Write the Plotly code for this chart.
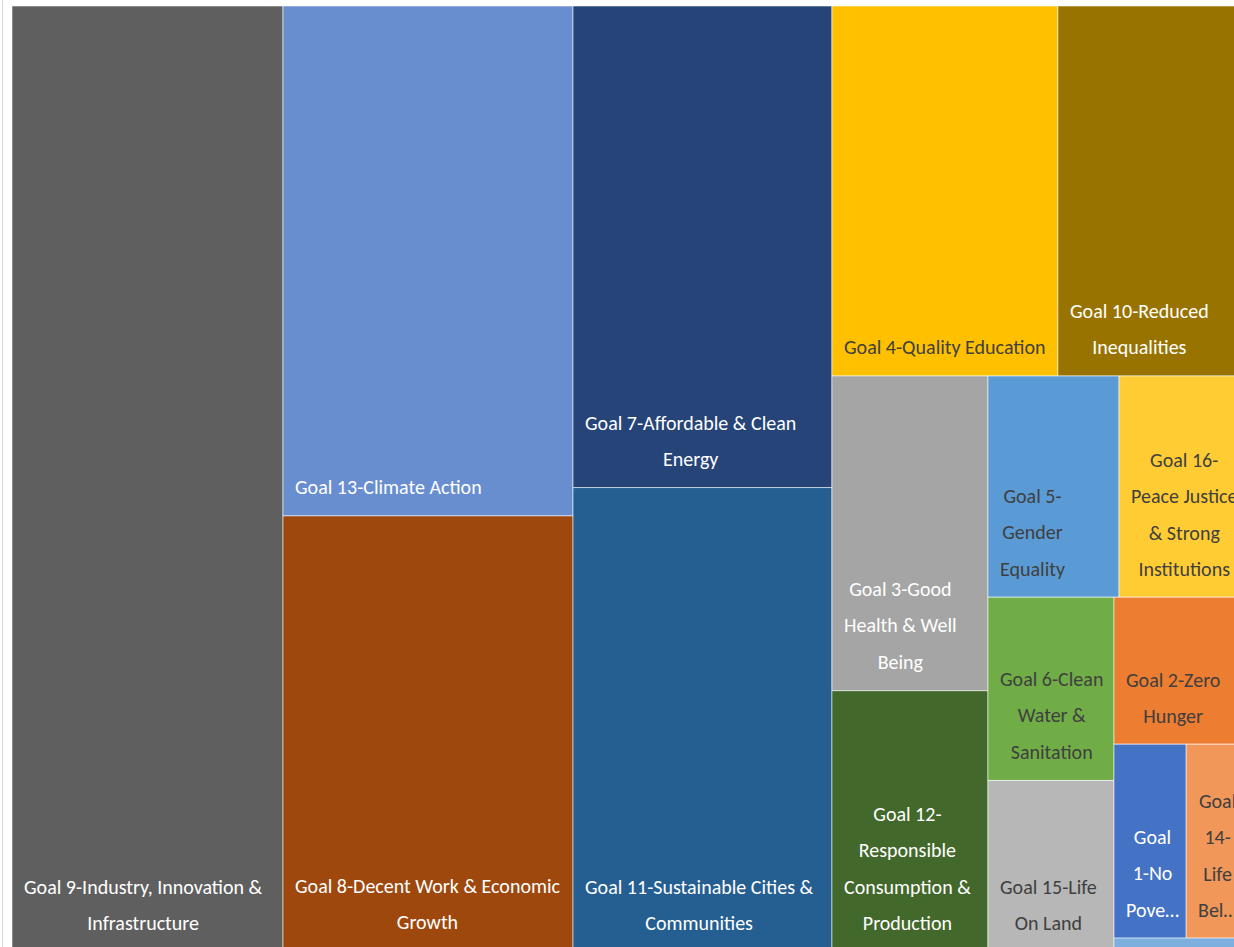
import plotly.graph_objects as go

# ---- data -------------------------------------------------------------
goal_ids = [9, 13, 8, 7, 11, 4, 10, 3, 12, 5, 16, 6, 15, 2, 1, 14, 17]

goal_names = {
    9: "Goal 9-Industry, Innovation & Infrastructure",
    13: "Goal 13-Climate Action",
    8: "Goal 8-Decent Work & Economic Growth",
    7: "Goal 7-Affordable & Clean Energy",
    11: "Goal 11-Sustainable Cities & Communities",
    4: "Goal 4-Quality Education",
    10: "Goal 10-Reduced Inequalities",
    3: "Goal 3-Good Health & Well Being",
    12: "Goal 12-Responsible Consumption & Production",
    5: "Goal 5-Gender Equality",
    16: "Goal 16-Peace Justice & Strong Institutions",
    6: "Goal 6-Clean Water & Sanitation",
    15: "Goal 15-Life On Land",
    2: "Goal 2-Zero Hunger",
    1: "Goal 1-No Poverty",
    14: "Goal 14-Life Below Water",
    17: "Goal 17-Partnerships for the Goals",
}

goal_values = {
    9: 256.1, 13: 147.9, 8: 126.2, 7: 124.7, 11: 120.0,
    4: 83.6, 10: 69.6, 3: 49.1, 12: 40.6, 5: 29.0, 16: 28.1,
    6: 23.1, 15: 21.5, 2: 19.4, 1: 14.0, 14: 11.6, 17: 1.7,
}

# wrapped tile labels as they appear inside each tile
goal_labels = {
    9: ["Goal 9-Industry, Innovation &", "Infrastructure"],
    13: ["Goal 13-Climate Action"],
    8: ["Goal 8-Decent Work & Economic", "Growth"],
    7: ["Goal 7-Affordable & Clean", "Energy"],
    11: ["Goal 11-Sustainable Cities &", "Communities"],
    4: ["Goal 4-Quality Education"],
    10: ["Goal 10-Reduced", "Inequalities"],
    3: ["Goal 3-Good", "Health & Well", "Being"],
    12: ["Goal 12-", "Responsible", "Consumption &", "Production"],
    5: ["Goal 5-", "Gender", "Equality"],
    16: ["Goal 16-", "Peace Justice", "& Strong", "Institutions"],
    6: ["Goal 6-Clean", "Water &", "Sanitation"],
    15: ["Goal 15-Life", "On Land"],
    2: ["Goal 2-Zero", "Hunger"],
    1: ["Goal", "1-No", "Pove\u2026"],
    14: ["Goal", "14-", "Life", "Bel\u2026"],
    17: [],
}

goal_colors = {
    9: "#5F5F5F", 13: "#698ED0", 8: "#9E480E", 7: "#264478", 11: "#255E91",
    4: "#FFC000", 10: "#997300", 3: "#A5A5A5", 12: "#43682B", 5: "#5B9BD5",
    16: "#FFCD33", 6: "#70AD47", 15: "#B7B7B7", 2: "#ED7D31", 1: "#4472C4",
    14: "#F1975A", 17: "#7CAFDD",
}

dark_text = {4, 5, 16, 6, 15, 2, 14}

# strips of the treemap, in placement order: "col" = stacked vertically
# on the left of the free area, "row" = laid side by side along its top
strips = [
    ("col", [9]), ("col", [13, 8]), ("col", [7, 11]), ("row", [4, 10]),
    ("col", [3, 12]), ("row", [5, 16]), ("col", [6, 15]), ("row", [2]),
    ("row", [1, 14]), ("col", [17]),
]

# ---- layout -----------------------------------------------------------
CHART_W, CHART_H = 1234.0, 945.0      # full treemap extent
VIEW_W, VIEW_H = 1222.0, 941.0        # visible part of it
PAD = 10
FONT = "Carlito, Lato, Roboto, sans-serif"

total = sum(goal_values.values())
scale = CHART_W * CHART_H / total


def tile(strips):
    rects = {}
    x, y, w, h = 0.0, 0.0, CHART_W, CHART_H
    for orient, items in strips:
        area = sum(goal_values[g] for g in items) * scale
        if orient == "col":
            sw = area / h
            cy = y
            for g in items:
                gh = goal_values[g] * scale / sw
                rects[g] = (x, cy, x + sw, cy + gh)
                cy += gh
            x += sw
            w -= sw
        else:
            sh = area / w
            cx = x
            for g in items:
                gw = goal_values[g] * scale / sh
                rects[g] = (cx, y, cx + gw, y + sh)
                cx += gw
            y += sh
            h -= sh
    return rects


rects = tile(strips)

fig = go.Figure()
annotations = []
for g in goal_ids:
    x0, y0, x1, y1 = rects[g]
    fig.add_trace(go.Scatter(
        x=[x0, x1, x1, x0, x0],
        y=[y0, y0, y1, y1, y0],
        mode="lines",
        fill="toself",
        fillcolor=goal_colors[g],
        line=dict(color="rgba(255,255,255,0.55)", width=1),
        name=goal_names[g],
        hoveron="fills",
        text=f"{goal_names[g]}: {goal_values[g]}",
        hoverinfo="text",
        showlegend=False,
    ))
    lines = goal_labels[g]
    if lines:
        color = "#3F3F3F" if g in dark_text else "#FFFFFF"
        txt = "<br>".join(
            f'<span style="font-size:20px">{ln}</span>' for ln in lines
        )
        # tile bottoms may lie below the visible range, so anchor in paper units
        annotations.append(dict(
            x=(x0 + PAD) / VIEW_W, y=1 - y1 / VIEW_H,
            xref="paper", yref="paper",
            xanchor="left", yanchor="bottom", align="center",
            text=txt, showarrow=False, yshift=14.5,
            font=dict(family=FONT, size=28, color=color),
        ))

fig.update_layout(
    width=1234, height=947,
    margin=dict(l=12, r=0, t=6, b=0),
    paper_bgcolor="white", plot_bgcolor="white",
    xaxis=dict(range=[0, VIEW_W], visible=False, fixedrange=True),
    yaxis=dict(range=[VIEW_H, 0], visible=False, fixedrange=True),
    annotations=annotations,
    shapes=[dict(type="line", xref="paper", yref="paper",
                 x0=-9.5 / VIEW_W, x1=-9.5 / VIEW_W, y0=-0.01, y1=1.01,
                 line=dict(color="#D9D9D9", width=1))],
)

fig.write_html("out.html")
